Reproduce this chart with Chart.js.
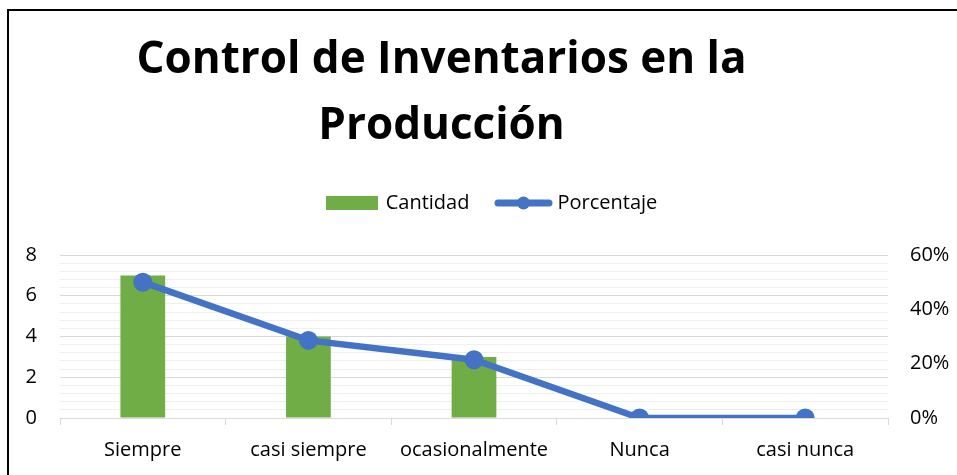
<!DOCTYPE html>
<html>
<head>
<meta charset="utf-8">
<script src="https://cdn.jsdelivr.net/npm/chart.js@4/dist/chart.umd.min.js"></script>
<style>
  html, body { margin: 0; padding: 0; background: #fff; }
  #frame {
    position: absolute; left: 7px; top: 9px; width: 960px; height: 480px;
    border-left: 2px solid #000; border-top: 2px solid #000;
  }
  #chart { position: absolute; left: 0; top: 0; }
</style>
</head>
<body>
<div id="frame"></div>
<canvas id="chart" width="957" height="475"></canvas>
<script>
const categories = ['Siempre', 'casi siempre', 'ocasionalmente', 'Nunca', 'casi nunca'];
const cantidad = [7, 4, 3, 0, 0];
const porcentaje = [50, 28.57, 21.43, 0, 0];
const leftTicks = [0, 2, 4, 6, 8];
const rightTicks = [0, 20, 40, 60];

const colors = {
  green: '#70AD47',
  blue: '#4472C4',
  gridMajor: '#d9d9d9',
  gridMinor: '#efefef'
};

// legend icons
function boxIcon() {
  const c = document.createElement('canvas');
  c.width = 52; c.height = 14;
  const g = c.getContext('2d');
  g.fillStyle = colors.green;
  g.fillRect(0, 0, 52, 14);
  return c;
}
function lineIcon() {
  const c = document.createElement('canvas');
  c.width = 59; c.height = 16;
  const g = c.getContext('2d');
  g.strokeStyle = colors.blue;
  g.lineWidth = 7;
  g.lineCap = 'round';
  g.beginPath(); g.moveTo(4, 8); g.lineTo(55, 8); g.stroke();
  g.fillStyle = colors.blue;
  g.beginPath(); g.arc(29.5, 8, 6.5, 0, Math.PI * 2); g.fill();
  return c;
}

const isMajor = v => Math.abs(v / 2 - Math.round(v / 2)) < 1e-6;

// move title / legend off the canvas centre like in the original
const shiftBoxes = {
  id: 'shiftBoxes',
  afterLayout(chart) {
    chart.titleBlock.left -= 37;
    chart.titleBlock.right -= 37;
    chart.legend.left += 14;
    chart.legend.right += 14;
  }
};

new Chart(document.getElementById('chart'), {
  type: 'bar',
  data: {
    labels: categories,
    datasets: [{
      type: 'bar',
      label: 'Cantidad',
      data: cantidad,
      backgroundColor: colors.green,
      categoryPercentage: 1,
      barPercentage: 0.27,
      yAxisID: 'y',
      order: 1
    }, {
      type: 'line',
      label: 'Porcentaje',
      data: porcentaje,
      borderColor: colors.blue,
      backgroundColor: colors.blue,
      borderWidth: 6.5,
      tension: 0,
      pointRadius: 9.5,
      pointBorderWidth: 0,
      pointBackgroundColor: colors.blue,
      yAxisID: 'y1',
      order: 0
    }]
  },
  options: {
    responsive: false,
    animation: false,
    layout: { padding: 0 },
    plugins: {
      tooltip: { enabled: false },
      title: {
        display: true,
        text: ['Control de Inventarios en la', 'Producción'],
        color: '#000',
        font: { family: 'Open Sans', size: 44, weight: 'bold', lineHeight: 1.5 },
        padding: { top: 27, bottom: 4 }
      },
      legend: {
        display: true,
        position: 'top',
        labels: {
          color: '#000',
          font: { family: 'Open Sans', size: 20 },
          usePointStyle: true,
          pointStyleWidth: 48,
          padding: 30,
          generateLabels: () => [
            { text: 'Cantidad', pointStyle: boxIcon(), datasetIndex: 0, fontColor: '#000', lineWidth: 0 },
            { text: 'Porcentaje', pointStyle: lineIcon(), datasetIndex: 1, fontColor: '#000', lineWidth: 0 }
          ]
        }
      },
      subtitle: {
        // empty spacer between legend and plot area
        display: true,
        text: '',
        weight: 500,
        padding: 0,
        font: { size: 32, lineHeight: 1 }
      }
    },
    scales: {
      x: {
        offset: true,
        grid: {
          display: true,
          offset: true,
          drawOnChartArea: false,
          drawTicks: true,
          tickLength: 7,
          color: colors.gridMajor
        },
        border: { display: true, color: colors.gridMajor },
        ticks: {
          color: '#000',
          padding: 13,
          font: { family: 'Open Sans', size: 20 },
          maxRotation: 0
        },
        afterFit(scale) { scale.height = 57; }
      },
      y: {
        position: 'left',
        min: 0,
        max: leftTicks[leftTicks.length - 1],
        border: { display: false },
        grid: {
          drawTicks: false,
          color: ctx => isMajor(ctx.tick.value) ? colors.gridMajor : colors.gridMinor
        },
        ticks: {
          stepSize: 0.4,
          autoSkip: false,
          padding: 23,
          color: '#000',
          font: { family: 'Open Sans', size: 20 },
          callback: v => (isMajor(v) && leftTicks.includes(Math.round(v))) ? String(Math.round(v)) : ''
        },
        afterFit(scale) { scale.width = 60; }
      },
      y1: {
        position: 'right',
        min: 0,
        max: rightTicks[rightTicks.length - 1],
        border: { display: false },
        grid: { display: false, drawTicks: false },
        ticks: {
          stepSize: 20,
          padding: 22,
          color: '#000',
          font: { family: 'Open Sans', size: 20 },
          callback: v => rightTicks.includes(v) ? v + '%' : ''
        },
        afterFit(scale) { scale.width = 69; }
      }
    }
  },
  plugins: [shiftBoxes]
});
</script>
</body>
</html>
